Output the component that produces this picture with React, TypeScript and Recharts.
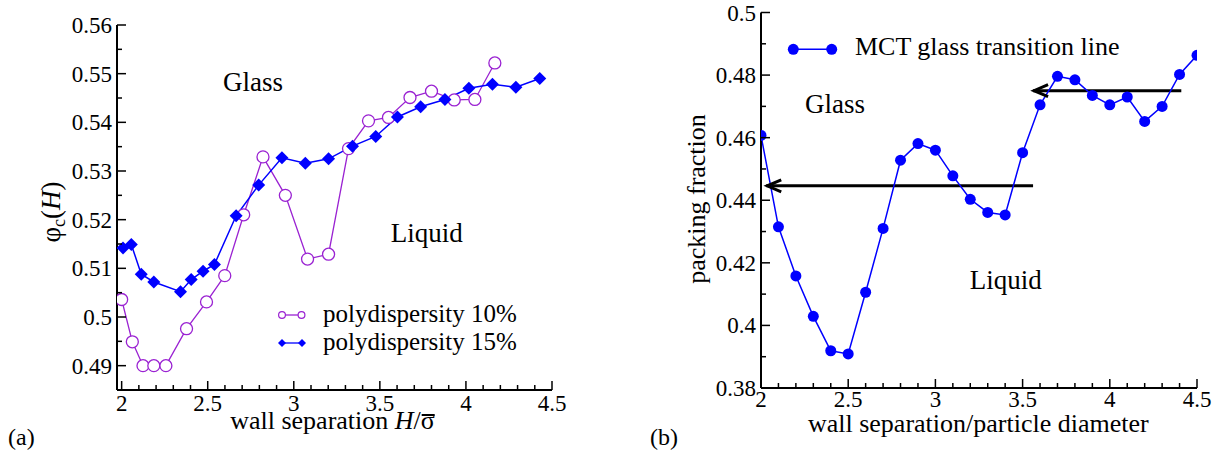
import React from 'react';
import { LineChart, Line, XAxis, YAxis, Legend, ReferenceLine, ReferenceDot } from 'recharts';

const FONT = '"Liberation Serif", "Times New Roman", Times, serif';
const PURPLE = '#9A22D2';
const BLUE = '#0000FF';
const BLACK = '#000000';

// ---- panel (a): critical packing fraction vs wall separation ----
const sepA10 = [2.0, 2.062, 2.124, 2.187, 2.257, 2.377, 2.493, 2.599, 2.709, 2.821, 2.951, 3.08, 3.202, 3.318, 3.434, 3.55, 3.675, 3.8, 3.932, 4.052, 4.168];
const phiA10 = [0.5036, 0.4949, 0.49, 0.49, 0.49, 0.4976, 0.5031, 0.5085, 0.521, 0.5329, 0.525, 0.5119, 0.5129, 0.5346, 0.5403, 0.541, 0.5451, 0.5464, 0.5446, 0.5447, 0.5522];
const sepA15 = [2.008, 2.056, 2.114, 2.187, 2.342, 2.404, 2.473, 2.539, 2.665, 2.796, 2.931, 3.067, 3.202, 3.341, 3.476, 3.602, 3.737, 3.878, 4.017, 4.154, 4.29, 4.429];
const phiA15 = [0.5142, 0.5149, 0.5088, 0.5072, 0.5052, 0.5077, 0.5094, 0.5108, 0.5208, 0.5271, 0.5327, 0.5316, 0.5325, 0.5351, 0.5371, 0.5411, 0.5432, 0.5447, 0.547, 0.5478, 0.5472, 0.549];
const xMajorA = [2, 2.5, 3, 3.5, 4, 4.5];
const xMinorA = [2.1, 2.2, 2.3, 2.4, 2.6, 2.7, 2.8, 2.9, 3.1, 3.2, 3.3, 3.4, 3.6, 3.7, 3.8, 3.9, 4.1, 4.2, 4.3, 4.4];
const yMajorA = [0.49, 0.5, 0.51, 0.52, 0.53, 0.54, 0.55, 0.56];
const yMinorA = [0.495, 0.505, 0.515, 0.525, 0.535, 0.545, 0.555];
const xDomainA: [number, number] = [1.973, 4.5];
const yDomainA: [number, number] = [0.485, 0.56];

// ---- panel (b): MCT glass transition line ----
const sepB = [2.0, 2.1, 2.2, 2.3, 2.4, 2.5, 2.6, 2.7, 2.8, 2.9, 3.0, 3.1, 3.2, 3.3, 3.4, 3.5, 3.6, 3.7, 3.8, 3.9, 4.0, 4.1, 4.2, 4.3, 4.4, 4.5];
const phiB = [0.4607, 0.4315, 0.4158, 0.4029, 0.3919, 0.3909, 0.4106, 0.431, 0.4528, 0.4581, 0.456, 0.4478, 0.4403, 0.4361, 0.4353, 0.4552, 0.4705, 0.4796, 0.4785, 0.4735, 0.4705, 0.473, 0.4652, 0.47, 0.4802, 0.4863];
const xMajorB = [2, 2.5, 3, 3.5, 4, 4.5];
const xMinorB = [2.1, 2.2, 2.3, 2.4, 2.6, 2.7, 2.8, 2.9, 3.1, 3.2, 3.3, 3.4, 3.6, 3.7, 3.8, 3.9, 4.1, 4.2, 4.3, 4.4];
const yMajorB = [0.38, 0.4, 0.42, 0.44, 0.46, 0.48, 0.5];
const yMinorB = [0.39, 0.41, 0.43, 0.45, 0.47, 0.49];
const xDomainB: [number, number] = [2, 4.5];
const yDomainB: [number, number] = [0.38, 0.5];
// horizontal arrows: tail -> head at a fixed packing fraction
const arrowUpper = { tail: 4.41, head: 3.56, level: 0.475 };
const arrowLower = { tail: 3.56, head: 2.03, level: 0.4446 };

const dataA10 = sepA10.map((x, i) => ({ x, y: phiA10[i] }));
const dataA15 = sepA15.map((x, i) => ({ x, y: phiA15[i] }));
const dataB = sepB.map((x, i) => ({ x, y: phiB[i] }));

const fmt = (v: number) => String(Number(v.toFixed(4)));
const isMajor = (list: number[], v: number) => list.some((m) => Math.abs(m - v) < 1e-7);
const allTicks = (a: number[], b: number[]) => [...a, ...b].sort((p, q) => p - q);

const TICK_FONT = 23;
const MAJOR_LEN = 9;
const MINOR_LEN = 5;

const bottomTick = (majors: number[], labelDy: number) => (p: any) => {
  const v = p.payload.value;
  const major = isMajor(majors, v);
  return (
    <g key={`b-${v}`}>
      <line x1={p.x} x2={p.x} y1={p.y} y2={p.y - (major ? MAJOR_LEN : MINOR_LEN)} stroke={BLACK} strokeWidth={1.5} />
      {major && (
        <text x={p.x} y={p.y + labelDy} textAnchor="middle" fontFamily={FONT} fontSize={TICK_FONT} fill={BLACK}>
          {fmt(v)}
        </text>
      )}
    </g>
  );
};

const topTick = (majors: number[]) => (p: any) => {
  const v = p.payload.value;
  const major = isMajor(majors, v);
  return <line key={`t-${v}`} x1={p.x} x2={p.x} y1={p.y} y2={p.y + (major ? MAJOR_LEN : MINOR_LEN)} stroke={BLACK} strokeWidth={1.5} />;
};

const leftTick = (majors: number[]) => (p: any) => {
  const v = p.payload.value;
  const major = isMajor(majors, v);
  return (
    <g key={`l-${v}`}>
      <line x1={p.x} x2={p.x + (major ? MAJOR_LEN : MINOR_LEN)} y1={p.y} y2={p.y} stroke={BLACK} strokeWidth={1.5} />
      {major && (
        <text x={p.x - 5} y={p.y + 8} textAnchor="end" fontFamily={FONT} fontSize={TICK_FONT} fill={BLACK}>
          {fmt(v)}
        </text>
      )}
    </g>
  );
};

const rightTick = (majors: number[]) => (p: any) => {
  const v = p.payload.value;
  const major = isMajor(majors, v);
  return <line key={`r-${v}`} x1={p.x} x2={p.x - (major ? MAJOR_LEN : MINOR_LEN)} y1={p.y} y2={p.y} stroke={BLACK} strokeWidth={1.5} />;
};

const diamondPath = (cx: number, cy: number, s: number) =>
  `M ${cx} ${cy - s} L ${cx + s} ${cy} L ${cx} ${cy + s} L ${cx - s} ${cy} Z`;

const diamond = (p: any) => (
  <path key={`d-${p.index}`} d={diamondPath(p.cx, p.cy, 6.5)} fill={BLUE} stroke="none" />
);

const arrowHead = (p: any) => (
  <path
    d={`M ${p.cx + 15} ${p.cy - 6} L ${p.cx + 1} ${p.cy} L ${p.cx + 15} ${p.cy + 6}`}
    fill="none"
    stroke={BLACK}
    strokeWidth={3}
    strokeLinejoin="miter"
  />
);

const axisLine = { stroke: BLACK, strokeWidth: 2 };

const legendA = (props: any) => {
  const items = props.payload || [];
  return (
    <svg width={330} height={70} style={{ overflow: 'visible' }}>
      {items.map((it: any, i: number) => {
        const cy = 15 + i * 28;
        const circle = it.value.includes('10');
        return (
          <g key={it.value}>
            <line x1={12} x2={32} y1={cy} y2={cy} stroke={it.color} strokeWidth={1.3} />
            {circle ? (
              <>
                <circle cx={12} cy={cy} r={3.4} fill="#fff" stroke={it.color} strokeWidth={1.2} />
                <circle cx={31.5} cy={cy} r={3.4} fill="#fff" stroke={it.color} strokeWidth={1.2} />
              </>
            ) : (
              <>
                <path d={diamondPath(12, cy, 4)} fill={BLUE} />
                <path d={diamondPath(32, cy, 4)} fill={BLUE} />
              </>
            )}
            <text x={53} y={cy + 7} fontFamily={FONT} fontSize={25} fill={BLACK}>
              {it.value}
            </text>
          </g>
        );
      })}
    </svg>
  );
};

const legendB = (props: any) => {
  const it = (props.payload || [])[0];
  if (!it) return null;
  return (
    <svg width={360} height={40} style={{ overflow: 'visible' }}>
      <line x1={13.3} x2={51.7} y1={19.3} y2={19.3} stroke={BLUE} strokeWidth={1.5} />
      <circle cx={13.3} cy={19.3} r={5.5} fill={BLUE} />
      <circle cx={51.7} cy={19.3} r={5.5} fill={BLUE} />
      <text x={75} y={24.5} fontFamily={FONT} fontSize={26} fill={BLACK}>
        {it.value}
      </text>
    </svg>
  );
};

const textBase: React.CSSProperties = {
  position: 'absolute',
  fontFamily: FONT,
  color: BLACK,
  whiteSpace: 'nowrap',
  lineHeight: 1,
};

// Place text so that its baseline sits on y (Liberation Serif metrics, line-height 1)
const atBaseline = (x: number, y: number, size: number, anchor: 'start' | 'middle' = 'middle'): React.CSSProperties => ({
  ...textBase,
  left: x,
  top: y - size * 0.836,
  fontSize: size,
  transform: anchor === 'middle' ? 'translateX(-50%)' : undefined,
});

const rotated = (cx: number, cy: number, size: number): React.CSSProperties => ({
  ...textBase,
  left: cx,
  top: cy,
  fontSize: size,
  transform: 'translate(-50%, -50%) rotate(-90deg)',
});

// sigma with a bar drawn just above the glyph
const SigmaBar = () => (
  <span style={{ position: 'relative', display: 'inline-block' }}>
    σ
    <span style={{ position: 'absolute', left: 1, right: 0, top: 6, borderTop: `2px solid ${BLACK}` }} />
  </span>
);

export default function App() {
  return (
    <div style={{ position: 'absolute', left: 0, top: 0, width: 1229, height: 456, background: '#fff', overflow: 'hidden' }}>
      {/* panel (a) */}
      <div style={{ position: 'absolute', left: 0, top: 0 }}>
        <LineChart width={600} height={456} margin={{ top: 25, right: 48, bottom: 0, left: 0 }}>
          <XAxis
            xAxisId={0}
            type="number"
            dataKey="x"
            domain={xDomainA}
            allowDataOverflow
            ticks={allTicks(xMajorA, xMinorA)}
            interval={0}
            tickSize={0}
            tickMargin={0}
            tickLine={false}
            axisLine={axisLine}
            height={66}
            tick={bottomTick(xMajorA, 21)}
          />
          <XAxis
            xAxisId="top"
            orientation="top"
            type="number"
            dataKey="x"
            domain={xDomainA}
            allowDataOverflow
            ticks={allTicks(xMajorA, xMinorA)}
            interval={0}
            tickSize={0}
            tickMargin={0}
            tickLine={false}
            axisLine={axisLine}
            height={0}
            tick={topTick(xMajorA)}
          />
          <YAxis
            yAxisId={0}
            type="number"
            domain={yDomainA}
            allowDataOverflow
            ticks={allTicks(yMajorA, yMinorA)}
            interval={0}
            tickSize={0}
            tickMargin={0}
            tickLine={false}
            axisLine={axisLine}
            width={117}
            tick={leftTick(yMajorA)}
          />
          <YAxis
            yAxisId="right"
            orientation="right"
            type="number"
            domain={yDomainA}
            allowDataOverflow
            ticks={allTicks(yMajorA, yMinorA)}
            interval={0}
            tickSize={0}
            tickMargin={0}
            tickLine={false}
            axisLine={axisLine}
            width={0}
            tick={rightTick(yMajorA)}
          />
          <Line
            data={dataA10}
            dataKey="y"
            name="polydispersity 10%"
            stroke={PURPLE}
            strokeWidth={1.3}
            dot={{ r: 6, fill: '#fff', stroke: PURPLE, strokeWidth: 1.3 }}
            isAnimationActive={false}
          />
          <Line
            data={dataA15}
            dataKey="y"
            name="polydispersity 15%"
            stroke={BLUE}
            strokeWidth={1.5}
            dot={diamond}
            isAnimationActive={false}
          />
          <Legend
            verticalAlign="middle"
            align="center"
            layout="horizontal"
            wrapperStyle={{ left: 270, top: 300, width: 330, height: 70 }}
            content={legendA}
          />
        </LineChart>
      </div>

      {/* panel (b) */}
      <div style={{ position: 'absolute', left: 600, top: 0 }}>
        <LineChart width={629} height={456} margin={{ top: 12.5, right: 32, bottom: 0, left: 0 }}>
          <XAxis
            xAxisId={0}
            type="number"
            dataKey="x"
            domain={xDomainB}
            allowDataOverflow
            ticks={allTicks(xMajorB, xMinorB)}
            interval={0}
            tickSize={0}
            tickMargin={0}
            tickLine={false}
            axisLine={axisLine}
            height={68}
            tick={bottomTick(xMajorB, 19)}
          />
          <XAxis
            xAxisId="top"
            orientation="top"
            type="number"
            dataKey="x"
            domain={xDomainB}
            allowDataOverflow
            ticks={allTicks(xMajorB, xMinorB)}
            interval={0}
            tickSize={0}
            tickMargin={0}
            tickLine={false}
            axisLine={axisLine}
            height={0}
            tick={topTick(xMajorB)}
          />
          <YAxis
            yAxisId={0}
            type="number"
            domain={yDomainB}
            allowDataOverflow
            ticks={allTicks(yMajorB, yMinorB)}
            interval={0}
            tickSize={0}
            tickMargin={0}
            tickLine={false}
            axisLine={axisLine}
            width={161}
            tick={leftTick(yMajorB)}
          />
          <YAxis
            yAxisId="right"
            orientation="right"
            type="number"
            domain={yDomainB}
            allowDataOverflow
            ticks={allTicks(yMajorB, yMinorB)}
            interval={0}
            tickSize={0}
            tickMargin={0}
            tickLine={false}
            axisLine={axisLine}
            width={0}
            tick={rightTick(yMajorB)}
          />
          <ReferenceLine
            segment={[{ x: arrowUpper.tail, y: arrowUpper.level }, { x: arrowUpper.head, y: arrowUpper.level }]}
            stroke={BLACK}
            strokeWidth={3}
          />
          <ReferenceDot x={arrowUpper.head} y={arrowUpper.level} r={0} shape={arrowHead} />
          <ReferenceLine
            segment={[{ x: arrowLower.tail, y: arrowLower.level }, { x: arrowLower.head, y: arrowLower.level }]}
            stroke={BLACK}
            strokeWidth={3}
          />
          <ReferenceDot x={arrowLower.head} y={arrowLower.level} r={0} shape={arrowHead} />
          <Line
            data={dataB}
            dataKey="y"
            name="MCT glass transition line"
            stroke={BLUE}
            strokeWidth={1.5}
            dot={{ r: 5.5, fill: BLUE, stroke: 'none' }}
            isAnimationActive={false}
          />
          <Legend
            verticalAlign="middle"
            align="center"
            layout="horizontal"
            wrapperStyle={{ left: 180, top: 30, width: 360, height: 40 }}
            content={legendB}
          />
        </LineChart>
      </div>

      {/* annotations and axis titles */}
      <div style={rotated(53, 212, 27)}>
        φ<sub style={{ fontSize: 18, verticalAlign: '-0.25em' }}>c</sub>(<i>H</i>)
      </div>
      <div style={atBaseline(332.5, 430, 26)}>
        wall separation <i>H</i>/<SigmaBar />
      </div>
      <div style={atBaseline(253, 91.7, 27)}>Glass</div>
      <div style={atBaseline(426.7, 242.7, 27)}>Liquid</div>
      <div style={atBaseline(8, 445, 24, 'start')}>(a)</div>

      <div style={rotated(697, 199, 26)}>packing fraction</div>
      <div style={atBaseline(978.3, 432.3, 26)}>wall separation/particle diameter</div>
      <div style={atBaseline(835, 113.3, 27)}>Glass</div>
      <div style={atBaseline(1005.8, 289.3, 27)}>Liquid</div>
      <div style={atBaseline(650, 445, 24, 'start')}>(b)</div>
    </div>
  );
}
